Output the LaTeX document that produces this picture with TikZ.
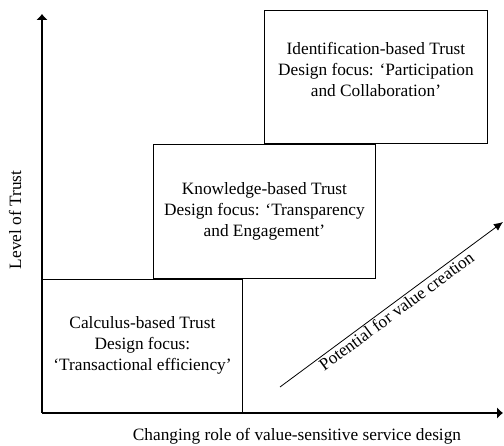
\documentclass[tikz,border=0pt]{standalone}
\usepackage{fontspec}
\setmainfont{Liberation Serif}
\usetikzlibrary{arrows.meta,positioning}

\begin{document}
\begin{tikzpicture}[
            x = 1pt, y = 1pt,
            > = {Latex[length=6pt,width=12pt]}, % arrow head style
            font = \fontsize{17.3}{21}\selectfont,
            box/.style = {draw, line width=0.9pt, align=center, anchor=south west,
                          inner sep=0pt, minimum height=133.5pt},
            axis/.style = {line width=1.4pt}
        ]

	\useasboundingbox (0,0) rectangle (504,446);

	\coordinate (origin) at (42,33);
	\coordinate (ytop) at (42,432);
	\coordinate (xend) at (503,33);

	\node[box, minimum width=200pt] (calc) at (origin)
		{Calculus-based Trust\\Design focus:\\`Transactional efficiency'};
	\node[box, minimum width=222pt] (know) at ([xshift=111pt]calc.north west)
		{Knowledge-based Trust\\Design focus: `Transparency\\and Engagement'};
	\node[box, minimum width=223pt] (ident) at ([xshift=111pt]know.north west)
		{Identification-based Trust\\Design focus: `Participation\\and Collaboration'\\[-5pt]};

	\draw[axis,->] (origin) -- (ytop);
	\draw[axis,->] (origin) -- (xend);

	\node[rotate=90] (ylab) at (15,226) {Level of Trust};
	\node (xlab) at (297,10) {Changing role of value-sensitive service design};

	\coordinate (pstart) at (280,59);
	\coordinate (pend) at (503,224);
	\draw[line width=0.8pt,-{Latex[length=9pt,width=8pt]}] (pstart) --
		node[midway, below, sloped, inner sep=1.5pt] (potlab) {Potential for value creation} (pend);
   
\end{tikzpicture}
\end{document}
